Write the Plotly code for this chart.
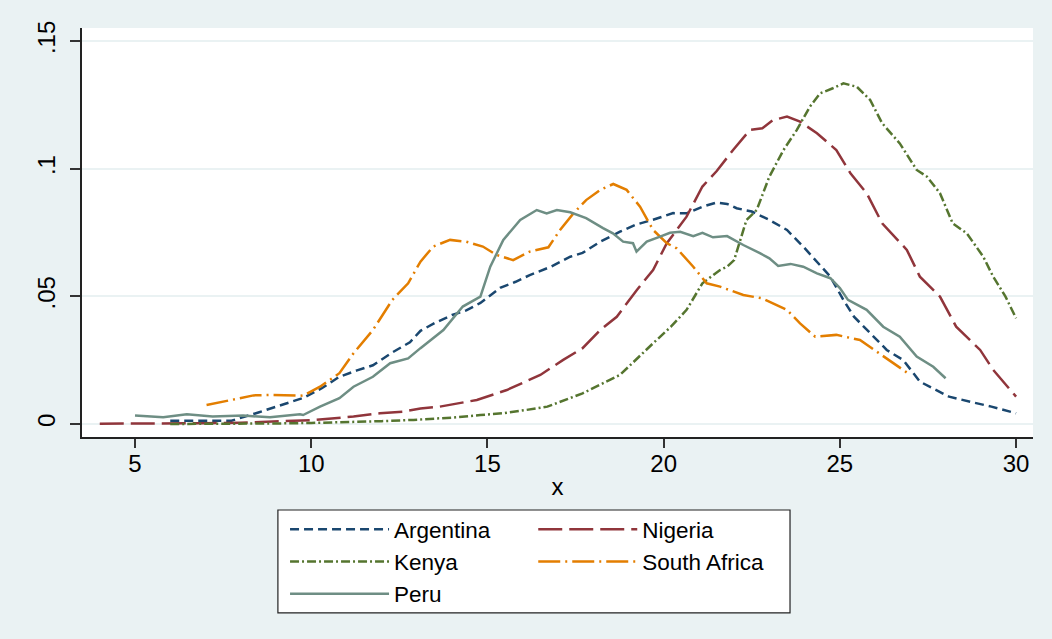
import plotly.graph_objects as go

# ---------------- data ----------------
argentina_x = [6.0, 7.0, 7.74, 8.5, 9.2, 9.77, 10.3, 10.8, 11.3, 11.75, 12.3, 12.8, 13.1, 13.5, 14.0,
               14.4, 14.8, 15.36, 15.8, 16.2, 16.8, 17.35, 17.7, 18.2, 18.76, 19.2, 19.7, 20.27, 20.65,
               21.1, 21.5, 21.8, 22.07, 22.5, 23.0, 23.5, 23.96, 24.35, 24.73, 25.1, 25.4, 25.86, 26.33,
               26.8, 27.27, 27.7, 28.1, 28.7, 29.3, 30.0]
argentina_y = [0.0013, 0.0013, 0.0013, 0.0045, 0.0075, 0.0102, 0.014, 0.0185, 0.021, 0.023, 0.028, 0.032,
               0.0365, 0.0395, 0.0427, 0.0445, 0.0474, 0.0533, 0.0557, 0.0583, 0.0616, 0.0655, 0.067,
               0.0714, 0.0753, 0.078, 0.080, 0.0826, 0.0825, 0.0851, 0.0867, 0.0862, 0.0845, 0.0832,
               0.0799, 0.076, 0.0695, 0.0636, 0.0577, 0.0486, 0.042, 0.0356, 0.029, 0.025, 0.0166,
               0.0135, 0.0107, 0.0087, 0.0068, 0.0042]

nigeria_x = [4.0, 5.0, 6.0, 7.0, 8.0, 9.0, 10.0, 11.2, 11.95, 12.6, 13.1, 13.65, 14.7, 15.55, 16.5,
             17.15, 17.7, 18.2, 18.67, 19.24, 19.7, 20.09, 20.65, 21.1, 21.5, 21.97, 22.45, 22.8, 23.1,
             23.5, 23.87, 24.35, 24.9, 25.3, 25.76, 26.2, 26.9, 27.27, 27.84, 28.3, 28.98, 29.35, 30.0]
nigeria_y = [0.0001, 0.0001, 0.0002, 0.0003, 0.0005, 0.0009, 0.0015, 0.0029, 0.0042, 0.0048, 0.0061,
             0.0068, 0.0094, 0.0133, 0.0192, 0.0251, 0.0297, 0.0368, 0.042, 0.0525, 0.0603, 0.0708,
             0.0812, 0.093, 0.099, 0.1073, 0.1152, 0.1158, 0.119, 0.1204, 0.1184, 0.1139, 0.1073,
             0.0982, 0.0904, 0.0786, 0.0682, 0.0577, 0.0499, 0.0381, 0.029, 0.0212, 0.0107]

kenya_x = [6.0, 7.0, 8.0, 9.0, 10.0, 11.0, 12.0, 12.9, 14.0, 14.8, 15.45, 16.1, 16.7, 17.7, 18.76,
           19.7, 20.2, 20.65, 21.1, 21.6, 21.8, 22.0, 22.35, 22.64, 23.0, 23.4, 23.78, 24.15, 24.44,
           24.8, 25.1, 25.48, 25.86, 26.2, 26.7, 27.18, 27.47, 27.84, 28.2, 28.6, 29.07, 29.35, 29.7, 30.0]
kenya_y = [0.0, 0.0, 0.0001, 0.0002, 0.0004, 0.0007, 0.0011, 0.0016, 0.0025, 0.0035, 0.0042, 0.0055,
           0.0068, 0.012, 0.0192, 0.0316, 0.038, 0.0447, 0.0551, 0.0603, 0.0616, 0.0642, 0.0799,
           0.0838, 0.0969, 0.1073, 0.1152, 0.1243, 0.1295, 0.1315, 0.1334, 0.1321, 0.1269, 0.1178,
           0.1099, 0.0995, 0.0969, 0.0904, 0.0786, 0.0747, 0.0655, 0.0577, 0.0499, 0.0414]

south_africa_x = [7.03, 7.7, 8.36, 8.9, 9.77, 10.25, 10.8, 11.2, 11.75, 12.3, 12.75, 13.1, 13.46, 13.94,
                  14.4, 14.87, 15.26, 15.73, 16.2, 16.73, 17.06, 17.44, 17.8, 18.2, 18.57, 18.95, 19.33,
                  19.7, 20.09, 20.37, 20.84, 21.22, 21.6, 22.26, 22.8, 23.5, 23.87, 24.3, 24.9, 25.57,
                  26.05, 26.5, 27.0]
south_africa_y = [0.0074, 0.0094, 0.0112, 0.0114, 0.0111, 0.0146, 0.0199, 0.0277, 0.0368, 0.0486, 0.0551,
                  0.0636, 0.0695, 0.0721, 0.0714, 0.0695, 0.0662, 0.0642, 0.0675, 0.0692, 0.076, 0.0825,
                  0.0877, 0.0917, 0.094, 0.0917, 0.0851, 0.076, 0.0708, 0.0688, 0.0616, 0.0551, 0.0538,
                  0.0505, 0.0492, 0.0447, 0.0394, 0.0342, 0.0349, 0.0329, 0.0283, 0.0238, 0.0192]

peru_x = [5.0, 5.8, 6.47, 7.2, 8.07, 8.83, 9.68, 9.77, 10.25, 10.8, 11.2, 11.75, 12.24, 12.75, 13.1,
          13.75, 14.3, 14.8, 15.08, 15.45, 15.93, 16.4, 16.68, 16.97, 17.35, 17.8, 18.28, 18.56, 18.85,
          19.13, 19.23, 19.52, 19.9, 20.18, 20.47, 20.84, 21.1, 21.4, 21.8, 22.26, 22.73, 23.0, 23.25,
          23.6, 23.96, 24.35, 24.73, 25.0, 25.23, 25.76, 26.23, 26.7, 27.18, 27.65, 28.0]
peru_y = [0.0033, 0.0026, 0.0038, 0.0029, 0.0033, 0.0026, 0.0038, 0.0035, 0.0068, 0.0101, 0.0146, 0.0185,
          0.0238, 0.0257, 0.0297, 0.0368, 0.046, 0.0499, 0.0616, 0.0721, 0.0799, 0.0838, 0.0825, 0.0838,
          0.0829, 0.0806, 0.0767, 0.0747, 0.0714, 0.0708, 0.0675, 0.0714, 0.0734, 0.0749, 0.0753, 0.0736,
          0.0749, 0.0731, 0.0736, 0.0701, 0.0669, 0.0649, 0.0619, 0.0627, 0.0616, 0.059, 0.0571, 0.0532,
          0.0486, 0.0447, 0.0381, 0.0342, 0.0264, 0.0224, 0.0179]

series_names = ["Argentina", "Nigeria", "Kenya", "South Africa", "Peru"]
x_ticks = [5, 10, 15, 20, 25, 30]
y_ticks = [0, 0.05, 0.1, 0.15]
y_tick_labels = ["0", ".05", ".1", ".15"]
x_title = "x"

# ---------------- styling ----------------
FONT = "Liberation Sans, Arial, sans-serif"
FS = 24
LFS = 22.5
BG = "#EAF2F3"
series = [
    (argentina_x, argentina_y, "#1A476F", "9px,5px", "legend"),
    (nigeria_x, nigeria_y, "#90353B", "24px,7px", "legend2"),
    (kenya_x, kenya_y, "#55752F", "9px,3px,2px,3px", "legend"),
    (south_africa_x, south_africa_y, "#E37E00", "22px,5px,2px,5px", "legend2"),
    (peru_x, peru_y, "#6E8E84", "solid", "legend"),
]

fig = go.Figure()
for name, (xs, ys, color, dash, leg) in zip(series_names, series):
    fig.add_trace(go.Scatter(
        x=xs, y=ys, mode="lines", name=name,
        line=dict(color=color, width=2.5, dash=dash),
        legend=leg, hoverinfo="skip",
    ))

legend_common = dict(
    orientation="v", xanchor="left", yanchor="top",
    bgcolor="rgba(0,0,0,0)", borderwidth=0,
    font=dict(family=FONT, size=LFS, color="#000"),
    itemwidth=99, tracegroupgap=0,
)
fig.update_layout(
    width=1052, height=639,
    margin=dict(l=82, r=19, t=28, b=202, autoexpand=False),
    paper_bgcolor=BG, plot_bgcolor="white",
    font=dict(family=FONT, size=FS, color="#000"),
    legend=dict(x=0.2135, y=-0.1736, **legend_common),
    legend2=dict(x=0.4745, y=-0.1736, **legend_common),
    xaxis=dict(
        range=[3.496, 30.48], tickvals=x_ticks, ticks="outside", ticklen=9,
        tickwidth=1.5, tickcolor="#333", showgrid=False, zeroline=False,
        showline=True, linecolor="#222", linewidth=1.5, automargin=False,
        tickfont=dict(family=FONT, size=FS, color="#000"), ticklabelstandoff=-5,
        title=dict(text=x_title, font=dict(family=FONT, size=FS, color="#000"), standoff=3),
    ),
    yaxis=dict(
        range=[-0.0051, 0.1551], tickvals=y_ticks, ticktext=y_tick_labels,
        ticks="outside", ticklen=10, tickwidth=1.5, tickcolor="#333",
        showgrid=True, gridcolor=BG, gridwidth=2, zeroline=False,
        showline=True, linecolor="#222", linewidth=1.5, tickangle=-90, automargin=False,
        tickfont=dict(family=FONT, size=FS, color="#000"), ticklabelstandoff=6,
    ),
    shapes=[dict(
        type="rect", xref="paper", yref="paper",
        x0=0.206, x1=0.7445, y0=-0.430, y1=-0.1785,
        fillcolor="white", line=dict(color="#222", width=1.2), layer="below",
    )],
    showlegend=True,
)

fig.write_html(
    "out.html",
    config={"displayModeBar": False},
    post_script="document.body.style.margin='0';document.body.style.background='#EAF2F3';",
)
